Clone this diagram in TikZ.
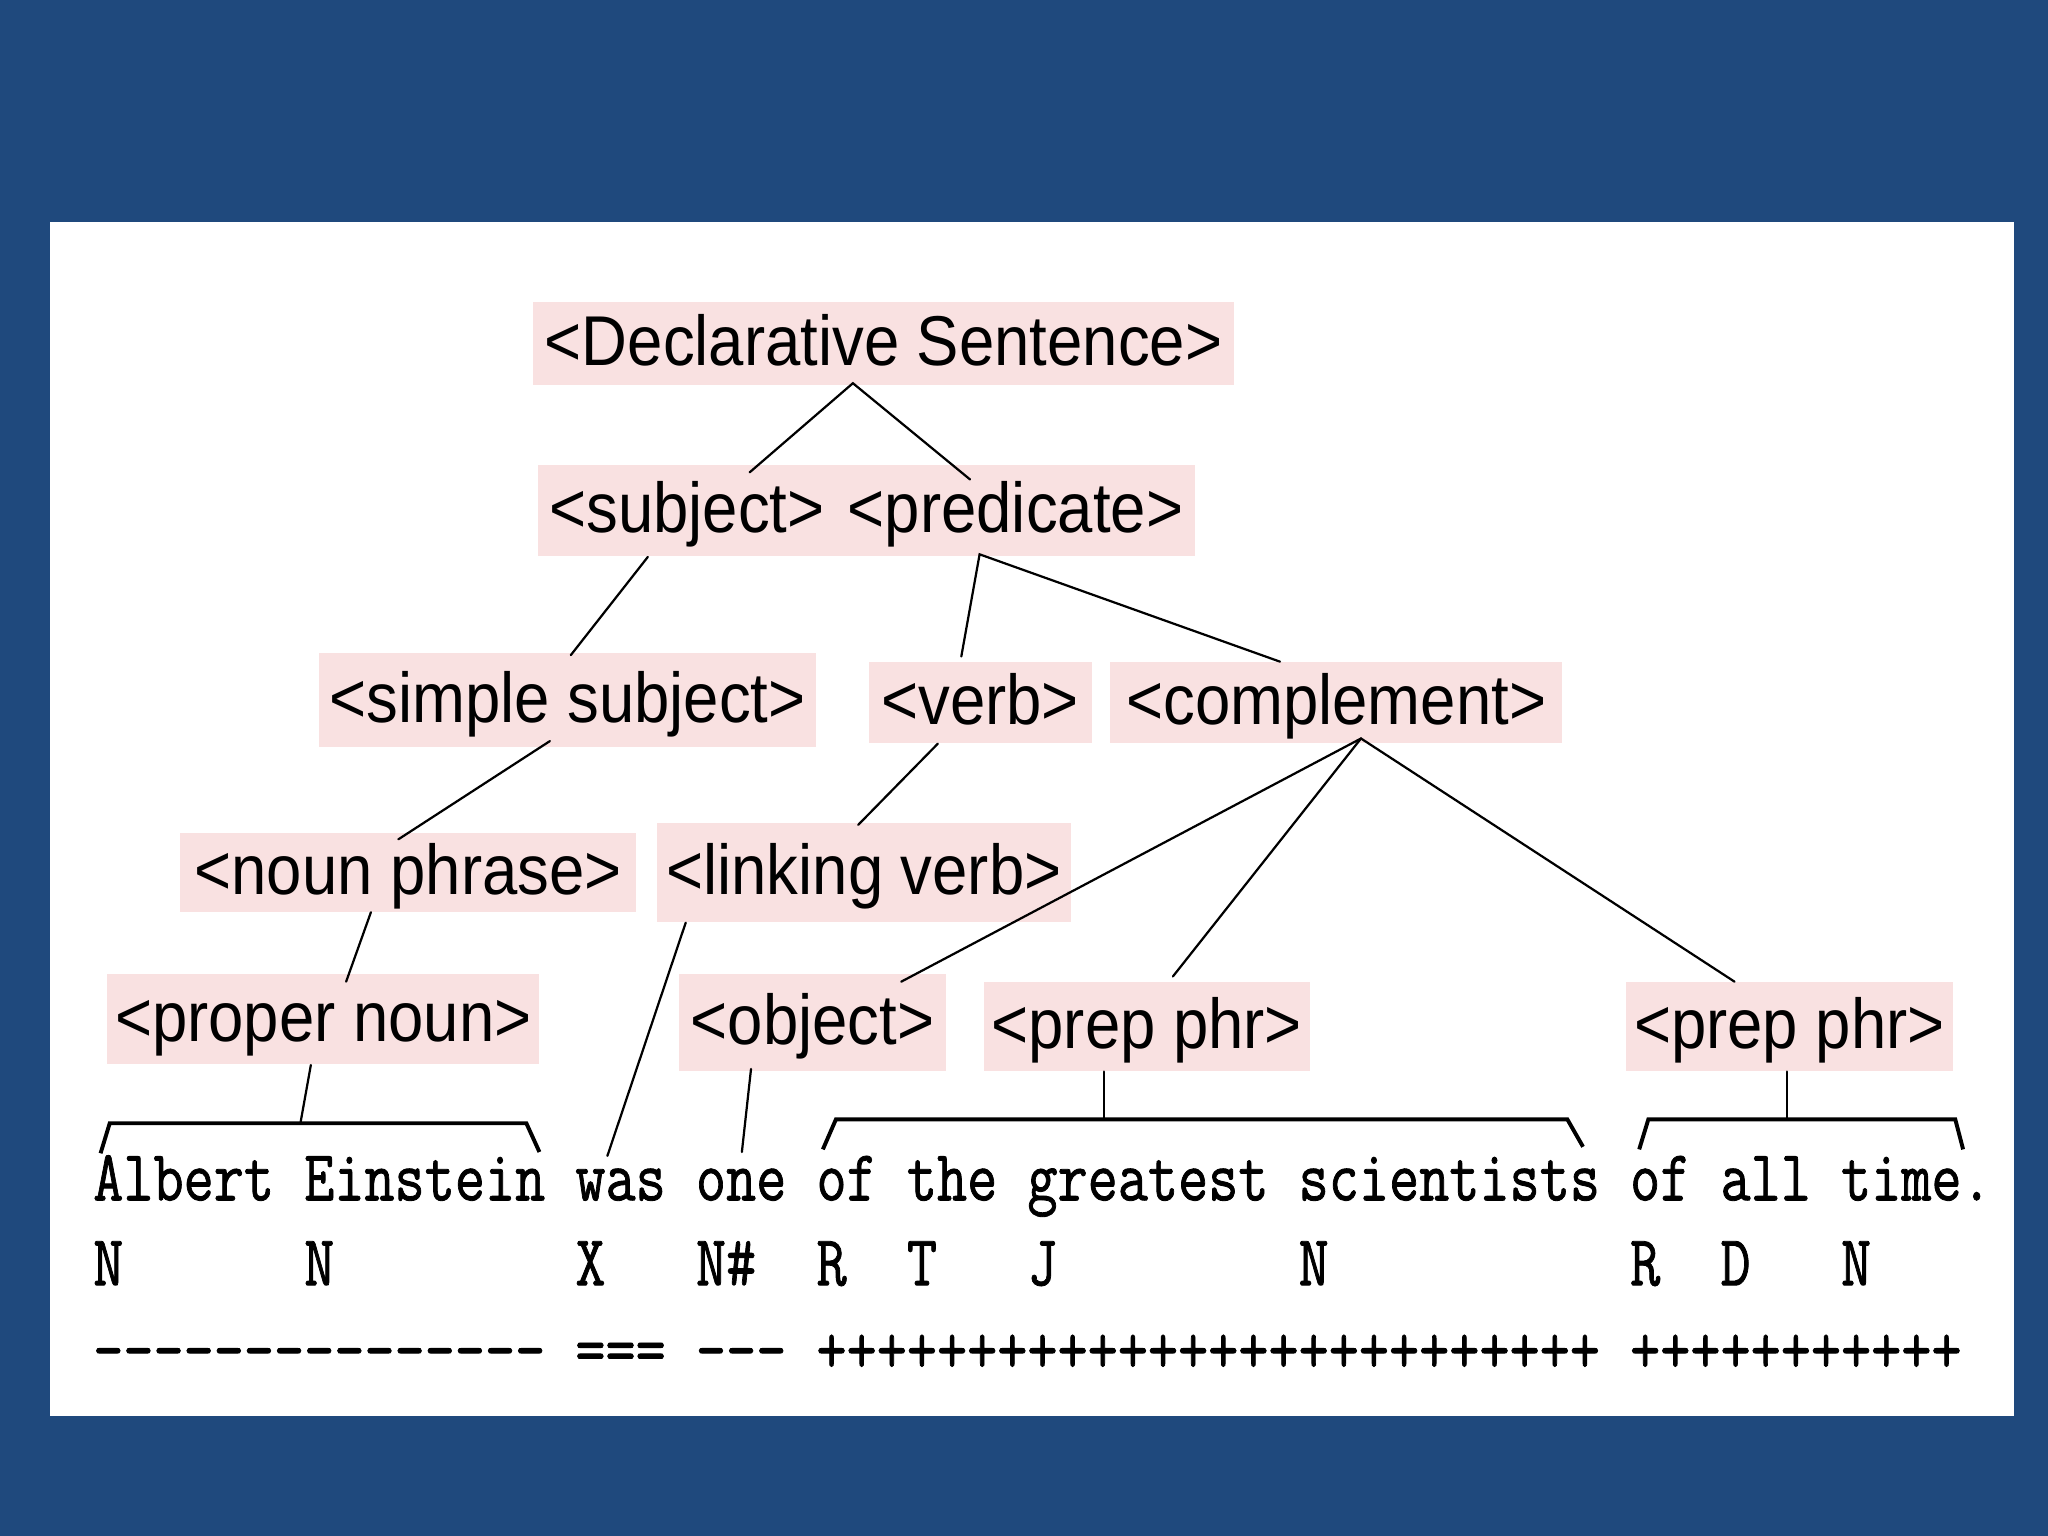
\documentclass[tikz,border=0pt]{standalone}
\usepackage{fontspec}
\usepackage{graphicx}
\newfontfamily\labfont[FakeStretch=0.9]{Liberation Sans}
\newfontfamily\monofnt[FakeBold=1.2]{Latin Modern Mono}
\definecolor{bgblue}{RGB}{31,73,125}
\definecolor{boxpink}{RGB}{249,225,225}
\newcommand\mydash{-\kern0pt}
\begin{document}
\begin{tikzpicture}[x=0.5pt,y=-0.5pt,
  lab/.style={fill=boxpink, inner sep=0pt, text height=22pt, text depth=5pt,
    font={\labfont\fontsize{27pt}{30pt}\selectfont}, anchor=center},
  tree/.style={line width=0.85pt, line cap=round},
  brk/.style={line width=1.5pt, line join=miter},
  mono/.style={inner sep=0pt, anchor=base west,
    font={\monofnt\fontsize{22.4pt}{24pt}\selectfont}}]
\useasboundingbox (0,0) rectangle (1568,1176);
\fill[bgblue] (0,0) rectangle (1568,1176);
\fill[white] (38.5,170) rectangle (1542,1084);

% tree nodes
\node[lab, minimum width=268.5pt, minimum height=32pt] (decl) at (676.5,263) {<Declarative Sentence>};
\node[lab, minimum width=114pt, minimum height=35pt] (subj) at (526,391) {<subject>};
\node[lab, minimum width=137.5pt, minimum height=35pt] (pred) at (777.5,391) {<predicate>};
\node[lab, minimum width=190.5pt, minimum height=36pt] (simp) at (434.5,536) {<simple subject>};
\node[lab, minimum width=85.5pt, minimum height=31pt] (verb) at (750.5,538) {<verb>};
\node[lab, minimum width=173pt, minimum height=31pt] (comp) at (1023,538) {<complement>};
\node[lab, minimum width=174.5pt, minimum height=30pt] (np) at (312.5,668) {<noun phrase>};
\node[lab, minimum width=158.5pt, minimum height=38pt] (lv) at (661.5,668) {<linking verb>};
\node[lab, minimum width=165.5pt, minimum height=34.5pt] (pn) at (247.5,780.5) {<proper noun>};
\node[lab, minimum width=102pt, minimum height=37pt] (obj) at (622,783) {<object>};
\node[lab, minimum width=125pt, minimum height=34pt] (pp1) at (878,786) {<prep phr>};
\node[lab, minimum width=125pt, minimum height=34pt] (pp2) at (1370,786) {<prep phr>};

% sentence rows
\node[mono] (row1) at (71,919) {\scalebox{1}[1.23]{Albert~Einstein~was~one~of~the~greatest~scientists~of~all~time.}};
\node[mono] (row2) at (71,984) {\scalebox{1}[1.23]{N~~~~~~N~~~~~~~~X~~~N\#~~R~~T~~~J~~~~~~~~N~~~~~~~~~~R~~D~~~N}};
\node[mono] (row3) at (71,1051) {\scalebox{1}[1.23]{\mydash\mydash\mydash\mydash\mydash\mydash\mydash\mydash\mydash\mydash\mydash\mydash\mydash\mydash\mydash~===~\mydash\mydash\mydash~++++++++++++++++++++++++++~+++++++++++}};

% bracket apexes and word tops
\coordinate (b1) at (230,860);
\coordinate (b2) at (845,857);
\coordinate (b3) at (1368,857);
\coordinate (wasTop) at (465,885);
\coordinate (oneTop) at (568,882);

% brackets
\draw[brk] (77,883) -- (84,860) -- (403,860) -- (413,882);
\draw[brk] (630,880) -- (640,857) -- (1200,857) -- (1212,878);
\draw[brk] (1255,880) -- (1262,857) -- (1497,857) -- (1503,880);

% connectors
\draw[tree] ([xshift=24pt,yshift=-3pt]subj.north) -- ([xshift=-11.75pt,yshift=1pt]decl.south) -- ([xshift=-17.4pt,yshift=-5.75pt]pred.north);
\draw[tree] ([xshift=-15pt]subj.south) -- ([xshift=1.25pt,yshift=-1pt]simp.north);
\draw[tree] ([xshift=-7.25pt,yshift=2pt]verb.north) -- ([xshift=-13.75pt,yshift=1pt]pred.south) -- ([xshift=-21.5pt]comp.north);
\draw[tree] ([xshift=-6.75pt,yshift=2.5pt]simp.south) -- ([xshift=-3.75pt,yshift=-2.5pt]np.north);
\draw[tree] ([xshift=-16.25pt]verb.south) -- ([xshift=-2.25pt,yshift=-1pt]lv.north);
\draw[tree] ([xshift=-14.25pt]np.south) -- ([xshift=8.75pt,yshift=-3pt]pn.north);
\draw[tree] ([xshift=-68.25pt]lv.south) -- (wasTop);
\draw[tree] ([xshift=34pt,yshift=-3pt]obj.north) -- ([xshift=9.5pt,yshift=2pt]comp.south) -- ([xshift=-21pt]pp2.north);
\draw[tree] ([xshift=9.5pt,yshift=2pt]comp.south) -- ([xshift=10pt,yshift=2pt]pp1.north);
\draw[tree] ([xshift=-4.75pt]pn.south) -- (b1);
\draw[tree] ([xshift=-23.5pt,yshift=1pt]obj.south) -- (oneTop);
\draw[tree] ([xshift=-16.5pt]pp1.south) -- (b2);
\draw[tree] ([xshift=-1pt]pp2.south) -- (b3);
\end{tikzpicture}
\end{document}
